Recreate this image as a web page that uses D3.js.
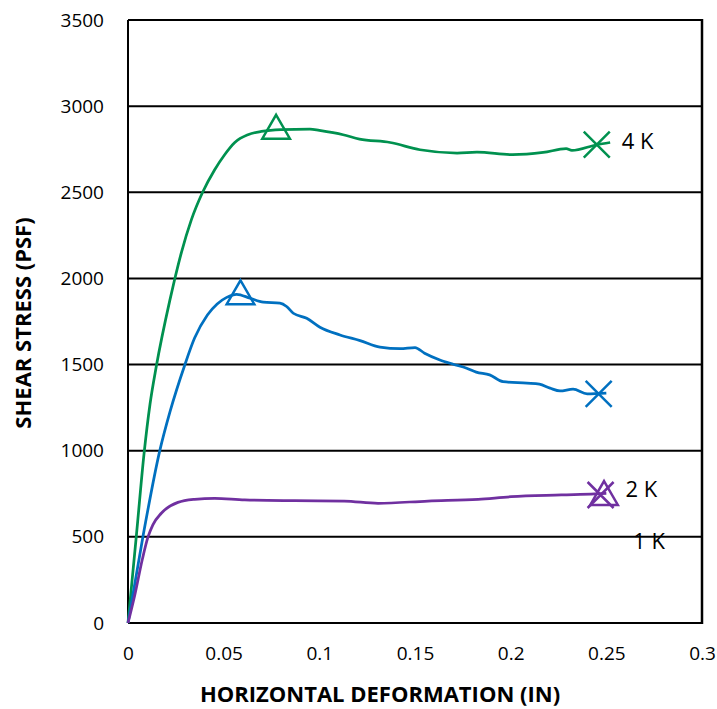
<!DOCTYPE html>
<html>
<head>
<meta charset="utf-8">
<script src="https://cdn.jsdelivr.net/npm/d3@7"></script>
<style>
  body { margin: 0; background: #fff; }
  text { font-family: "Open Sans", sans-serif; fill: #000; }
</style>
</head>
<body>
<div id="chart"></div>
<script>
// readings (deformation in, stress psf)
var green4k = [
  [0, 0], [0.0044, 510], [0.0084, 985], [0.0115, 1270], [0.0148, 1490], [0.0218, 1870],
  [0.0244, 1995], [0.0279, 2150], [0.0331, 2340], [0.039, 2500], [0.0453, 2631],
  [0.0505, 2718], [0.0558, 2789], [0.0627, 2834], [0.0697, 2853], [0.08, 2864],
  [0.0951, 2867], [0.1, 2859], [0.1124, 2834], [0.121, 2809], [0.137, 2789],
  [0.1526, 2747], [0.172, 2728], [0.1824, 2733], [0.201, 2718], [0.217, 2731],
  [0.229, 2753], [0.232, 2743], [0.245, 2776], [0.252, 2789]
];
var blue = [
  [0, 0], [0.0078, 501], [0.0165, 995], [0.022, 1228], [0.0296, 1495], [0.0348, 1654],
  [0.0415, 1788], [0.0466, 1852], [0.0516, 1890], [0.0568, 1908], [0.0638, 1885],
  [0.0707, 1862], [0.0794, 1856], [0.0829, 1837], [0.0864, 1798], [0.0934, 1769],
  [0.1003, 1717], [0.1108, 1672], [0.1213, 1639], [0.1317, 1601], [0.1422, 1592],
  [0.15, 1599], [0.155, 1566], [0.163, 1527], [0.17, 1502], [0.177, 1479], [0.182, 1456],
  [0.189, 1440], [0.196, 1401], [0.2085, 1392], [0.215, 1386], [0.2206, 1363],
  [0.2258, 1347], [0.2326, 1357], [0.24, 1330], [0.25, 1334]
];
var purple = [
  [0, 0], [0.0035, 160], [0.0075, 370], [0.0105, 501], [0.013, 570], [0.0174, 637],
  [0.0261, 700], [0.0348, 718], [0.0453, 724], [0.061, 714], [0.0871, 710],
  [0.113, 708], [0.1307, 695], [0.1568, 708], [0.183, 718], [0.2003, 733],
  [0.2265, 743], [0.244, 749], [0.25, 752]
];

var seriesColors = ["#00914f", "#0070c0", "#7030a0"];
var peaks = [[0.0774, 2869], [0.0588, 1908], [0.2488, 743]];
var ends = [[0.245, 2776], [0.246, 1330], [0.247, 743]];

var labels = ["4 K", "2 K", "1 K"];
var labelPos = [[0.258, 2795], [0.26, 778], [0.264, 476]];

var xTicks = [0, 0.05, 0.1, 0.15, 0.2, 0.25, 0.3];
var yTicks = [0, 500, 1000, 1500, 2000, 2500, 3000, 3500];

var width = 717, height = 709;

var x = d3.scaleLinear().domain([0, 0.3]).range([128, 702]),
    y = d3.scaleLinear().domain([0, 3500]).range([623, 20]);

var svg = d3.select("#chart")
  .append("svg")
  .attr("width", width)
  .attr("height", height);

// data labels (under the gridlines, like the original)
svg.append("g")
  .selectAll("text")
  .data(labels)
  .enter().append("text")
  .attr("x", function(d, i) { return x(labelPos[i][0]); })
  .attr("y", function(d, i) { return y(labelPos[i][1]); })
  .attr("dy", "0.35em")
  .style("font-size", "22px")
  .text(function(d) { return d; });

// gridlines
svg.append("g")
  .selectAll("line")
  .data(yTicks)
  .enter().append("line")
  .attr("x1", x(0)).attr("x2", x(0.3))
  .attr("y1", function(d) { return y(d); })
  .attr("y2", function(d) { return y(d); })
  .attr("stroke", "#000")
  .attr("stroke-width", 2);

// left and right borders
svg.append("line")
  .attr("x1", x(0)).attr("x2", x(0))
  .attr("y1", y(3500)).attr("y2", y(0))
  .attr("stroke", "#000").attr("stroke-width", 2);
svg.append("line")
  .attr("x1", x(0.3)).attr("x2", x(0.3))
  .attr("y1", y(3500) - 1).attr("y2", y(0) + 1)
  .attr("stroke", "#000").attr("stroke-width", 2.5);

// axes
var xAxis = svg.append("g")
  .attr("transform", "translate(0," + y(0) + ")")
  .call(d3.axisBottom(x).tickValues(xTicks).tickSize(0).tickPadding(24)
    .tickFormat(function(d) { return d === 0 ? "0" : String(+d.toFixed(2)); }));
xAxis.select(".domain").remove();
xAxis.selectAll("text").style("font-size", "19px").style("font-family", "Open Sans");

var yAxis = svg.append("g")
  .attr("transform", "translate(" + x(0) + ",0)")
  .call(d3.axisLeft(y).tickValues(yTicks).tickSize(0).tickPadding(24)
    .tickFormat(d3.format("d")));
yAxis.select(".domain").remove();
yAxis.selectAll("text").style("font-size", "19px").style("font-family", "Open Sans");

// axis titles
svg.append("text")
  .attr("x", 380).attr("y", 702)
  .attr("text-anchor", "middle")
  .style("font-size", "22px").style("font-weight", "bold")
  .text("HORIZONTAL DEFORMATION (IN)");

svg.append("text")
  .attr("transform", "translate(31,323) rotate(-90)")
  .attr("text-anchor", "middle")
  .style("font-size", "22px").style("font-weight", "bold")
  .text("SHEAR STRESS (PSF)");

// curves
var line = d3.line()
  .x(function(d) { return x(d[0]); })
  .y(function(d) { return y(d[1]); })
  .curve(d3.curveMonotoneX);

[green4k, blue, purple].forEach(function(s, i) {
  svg.append("path")
    .datum(s)
    .attr("d", line)
    .attr("fill", "none")
    .attr("stroke", seriesColors[i])
    .attr("stroke-width", 2.75)
    .attr("stroke-linejoin", "round");
});

// peak markers (triangles)
var tri = d3.symbol().type(d3.symbolTriangle).size(330);
svg.append("g")
  .selectAll("path")
  .data(peaks)
  .enter().append("path")
  .attr("d", tri)
  .attr("transform", function(d) { return "translate(" + x(d[0]) + "," + (y(d[1]) + 2) + ")"; })
  .attr("fill", "none")
  .attr("stroke", function(d, i) { return seriesColors[i]; })
  .attr("stroke-width", 2.5);

// end markers (X)
var ex = svg.append("g")
  .selectAll("g")
  .data(ends)
  .enter().append("g")
  .attr("transform", function(d) { return "translate(" + x(d[0]) + "," + y(d[1]) + ")"; });
ex.append("path")
  .attr("d", "M-13,-13L13,13M-13,13L13,-13")
  .attr("stroke", function(d, i) { return seriesColors[i]; })
  .attr("stroke-width", 2.5)
  .attr("fill", "none");
</script>
</body>
</html>
